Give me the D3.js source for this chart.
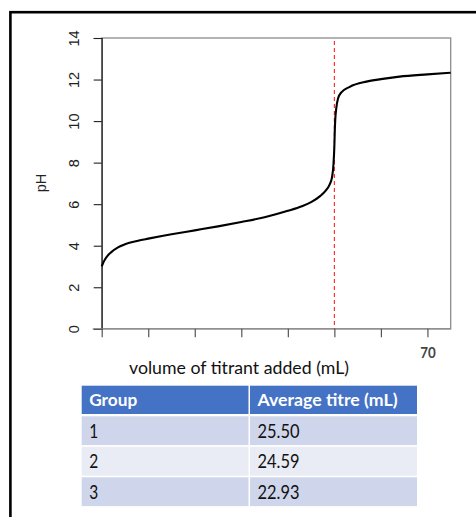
<!DOCTYPE html>
<html><head><meta charset="utf-8">
<script src="https://cdn.jsdelivr.net/npm/d3@7"></script>
<style>html,body{margin:0;padding:0;background:#fff;overflow:hidden}</style>
</head><body>
<svg id="c" width="476" height="517"></svg>
<script>
// ---- data ----
const volume = [0, 0.3, 0.7, 1.2, 2, 3.5, 5, 7.8, 10, 15, 20, 25, 30, 35, 40, 43, 45, 47, 48, 49, 49.5, 49.8, 50, 50.1, 50.2, 50.4, 50.8, 51.5, 53.3, 56.9, 60, 64, 70, 75];
const pHvals = [3.0, 3.17, 3.34, 3.5, 3.68, 3.92, 4.07, 4.24, 4.34, 4.55, 4.74, 4.93, 5.14, 5.37, 5.68, 5.9, 6.1, 6.4, 6.62, 6.95, 7.3, 7.9, 8.8, 9.6, 10.1, 10.6, 11.1, 11.38, 11.65, 11.9, 12.02, 12.14, 12.25, 12.33];
const equivalenceVolume = 50;
const yTicks = [0, 2, 4, 6, 8, 10, 12, 14];
const xTicks = [0, 10, 20, 30, 40, 50, 60, 70];
const xTickLabels = ["", "", "", "", "", "", "", "70"];
const xTitle = "volume of titrant added (mL)";
const yTitle = "pH";
const tableHeaders = ["Group", "Average titre (mL)"];
const groups = ["1", "2", "3"];
const titres = ["25.50", "24.59", "22.93"];

// ---- layout ----
const svg = d3.select("#c");
const L = 101.7, R = 450.7, T = 38, B = 328.8;
const x = d3.scaleLinear().domain([0, 75]).range([L, R]);
const y = d3.scaleLinear().domain([0, 14]).range([B, T]);
const calib = "Lato, 'Open Sans', sans-serif";
const arial = "'Liberation Sans', Arial, sans-serif";

function fit(sel, width) {
  sel.attr("textLength", width).attr("lengthAdjust", "spacingAndGlyphs");
}

// outer frame
svg.append("rect").attr("x", 10.4).attr("y", 12.2).attr("width", 480).attr("height", 520)
  .attr("fill", "none").attr("stroke", "#000").attr("stroke-width", 2.6);

// plot box (gray)
svg.append("rect").attr("x", L).attr("y", T).attr("width", R - L).attr("height", B - T)
  .attr("fill", "none").attr("stroke", "#8c8c8c").attr("stroke-width", 1.3);

// y axis
const yAxis = d3.axisLeft(y).tickValues(yTicks).tickSize(8).tickPadding(12).tickFormat(d3.format("d"));
const gy = svg.append("g").attr("transform", `translate(${L},0)`).call(yAxis);
gy.select(".domain").attr("stroke", "#222").attr("stroke-width", 1.2);
gy.selectAll(".tick line").attr("stroke", "#222").attr("stroke-width", 1.1);
gy.selectAll(".tick text")
  .attr("font-family", arial).attr("font-size", 14.5).attr("fill", "#222")
  .attr("transform", `translate(-27.6,0) rotate(-90)`)
  .attr("x", 0).attr("y", 0).attr("dy", "0.36em").attr("text-anchor", "middle");

// x axis
const xAxis = d3.axisBottom(x).tickValues(xTicks).tickSize(8.5).tickPadding(9)
  .tickFormat((d, i) => xTickLabels[i]);
const gx = svg.append("g").attr("transform", `translate(0,${B})`).call(xAxis);
gx.select(".domain").attr("stroke", "#8c8c8c").attr("stroke-width", 1.3)
  .attr("d", `M${L - 9},0H${R}`);
gx.selectAll(".tick line").attr("stroke", "#555").attr("stroke-width", 1.2);
gx.selectAll(".tick text").attr("font-family", calib).attr("font-weight", 700)
  .attr("font-size", 14.5).attr("fill", "#444").attr("y", 24).attr("dy", "0.36em")
  .each(function(){ if (this.textContent) fit(d3.select(this), 15.5); });

// titles
svg.append("text").attr("x", 239).attr("y", 368).attr("dy", "0.36em").attr("text-anchor", "middle")
  .attr("font-family", calib).attr("font-size", 17).attr("fill", "#111").text(xTitle)
  .call(fit, 220);
svg.append("text").attr("transform", `translate(41,183) rotate(-90)`).attr("text-anchor", "middle")
  .attr("dy", "0.36em")
  .attr("font-family", arial).attr("font-size", 14.5).attr("fill", "#222").text(yTitle);

// equivalence line
svg.append("line").attr("x1", x(equivalenceVolume)).attr("x2", x(equivalenceVolume))
  .attr("y1", y(13.85)).attr("y2", B)
  .attr("stroke", "#ff2020").attr("stroke-width", 1.1).attr("stroke-dasharray", "4,3");

// curve
const pts = volume.map((v, i) => [v, pHvals[i]]);
svg.append("path").datum(pts)
  .attr("d", d3.line().x(d => x(d[0])).y(d => y(d[1])).curve(d3.curveMonotoneX))
  .attr("fill", "none").attr("stroke", "#000").attr("stroke-width", 2.1);

// ---- table ----
const colX = [81.7, 250];
const colW = [166.8, 167];
const headY = 385.7, headH = 28.3;
const rowY = [416.3, 446.8, 477.3];
const rowH = 28.8;
const rowFill = ["#CFD5EA", "#E9EBF5", "#CFD5EA"];
const headW = [48, 140];

colX.forEach((cx, j) => {
  svg.append("rect").attr("x", cx).attr("y", headY).attr("width", colW[j]).attr("height", headH).attr("fill", "#4472C4");
  svg.append("text").attr("x", cx + 7.5).attr("y", headY + headH / 2).attr("dy", "0.36em")
    .attr("font-family", calib).attr("font-weight", 700).attr("font-size", 17.5).attr("fill", "#fff")
    .text(tableHeaders[j]).call(fit, headW[j]);
});
groups.forEach((g, i) => {
  const vals = [g, titres[i]];
  colX.forEach((cx, j) => {
    svg.append("rect").attr("x", cx).attr("y", rowY[i]).attr("width", colW[j]).attr("height", rowH).attr("fill", rowFill[i]);
    const t = svg.append("text").attr("x", cx + 7.5).attr("y", rowY[i] + rowH / 2).attr("dy", "0.36em")
      .attr("font-family", calib).attr("font-size", 19).attr("fill", "#111").text(vals[j]);
    if (j === 1) fit(t, 42); else fit(t, 9);
  });
});
</script>
</body></html>
